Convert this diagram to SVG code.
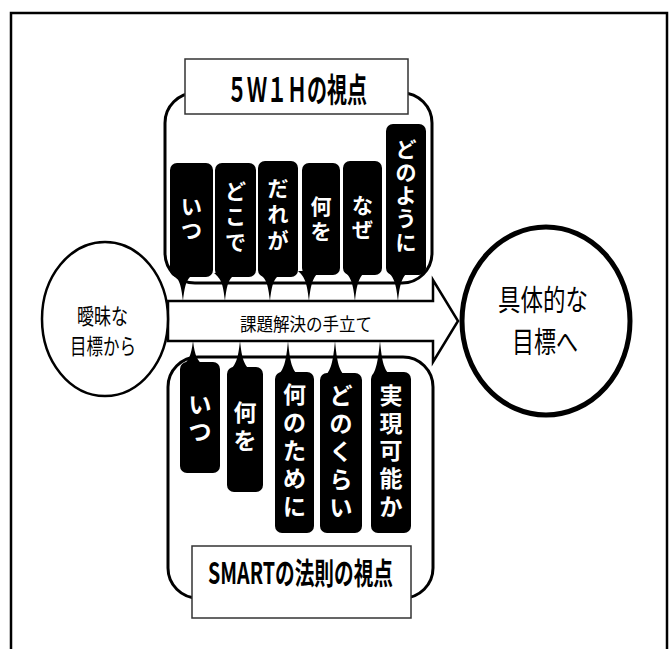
<svg xmlns="http://www.w3.org/2000/svg" width="669" height="649" viewBox="0 0 669 649">
<style>
.frame{fill:none;stroke:#000;stroke-width:2.5}
.cont{fill:#fff;stroke:#000;stroke-width:3}
.title{fill:#fff;stroke:#333;stroke-width:1.5}
.tt{font-family:"Noto Sans CJK JP","Noto Sans",sans-serif;font-weight:bold;fill:#000}
.tag{fill:#000}
.tagt{font-family:"Noto Sans CJK JP","Noto Sans",sans-serif;font-weight:bold;fill:#fff;text-anchor:middle}
.lbl{font-family:"Noto Sans CJK JP","Noto Sans",sans-serif;fill:#000}
.arrow{fill:#fff;stroke:#000;stroke-width:2.5;stroke-linejoin:miter}
</style>
<rect x="0" y="0" width="669" height="649" fill="#fff"/>
<rect class="frame" x="11" y="13" width="656" height="700"/>

<g id="top-group">
  <rect class="cont" x="165" y="93" width="267" height="190" rx="30"/>
  <rect class="title" x="185" y="59" width="223" height="55"/>
  <text class="tt" x="227" y="102" font-size="33" textLength="140" lengthAdjust="spacingAndGlyphs">５Ｗ１Ｈの視点</text>
</g>

<g id="bottom-group">
  <rect class="cont" x="168" y="357" width="265" height="241" rx="30"/>
  <rect class="title" x="192" y="546" width="219" height="72"/>
  <text class="tt" x="208" y="584" font-size="30" textLength="185" lengthAdjust="spacingAndGlyphs">SMARTの法則の視点</text>
</g>

<g id="connectors">
  <path id="main-arrow" class="arrow" d="M168,301 L433,301 L433,280 L458,321 L433,362 L433,341 L168,341 Z"/>
  <text class="lbl" x="240" y="331" font-size="18" textLength="132" lengthAdjust="spacingAndGlyphs">課題解決の手立て</text>
  <g class="tag">
    <path d="M172,273 C179,279 181,283 183,301 C185,283 187,279 194,273 Z"/>
    <path d="M214,273 C221,279 223,283 225,301 C227,283 229,279 236,273 Z"/>
    <path d="M259,273 C266,279 268,283 270,301 C272,283 274,279 281,273 Z"/>
    <path d="M298,271 C305,277 307,283 309,301 C311,283 313,277 320,271 Z"/>
    <path d="M344,271 C351,277 353,283 355,301 C357,283 359,277 366,271 Z"/>
    <path d="M387,271 C394,277 396,283 398,301 C400,283 402,277 409,271 Z"/>
    <path d="M182,366 C189,360 191,356 193,341 C195,356 197,360 204,366 Z"/>
    <path d="M229,371 C236,365 238,359 240,341 C242,359 244,365 251,371 Z"/>
    <path d="M277,376 C284,370 286,362 288,341 C290,362 292,370 299,376 Z"/>
    <path d="M324,377 C331,371 333,362 335,341 C337,362 339,371 346,377 Z"/>
    <path d="M372,376 C376,370 378,362 380,341 C382,362 384,370 391,376 Z"/>
  </g>
</g>

<g id="tag-itsu-1">
  <rect class="tag" x="170" y="163" width="43" height="114" rx="7"/>
  <text class="tagt" font-size="21"><tspan x="191.5" y="214">い</tspan><tspan x="191.5" y="238">つ</tspan></text>
</g>
<g id="tag-dokode">
  <rect class="tag" x="215" y="163" width="41" height="114" rx="7"/>
  <text class="tagt" font-size="21"><tspan x="235.5" y="199">ど</tspan><tspan x="235.5" y="224">こ</tspan><tspan x="235.5" y="250">で</tspan></text>
</g>
<g id="tag-darega">
  <rect class="tag" x="258" y="161" width="40" height="116" rx="7"/>
  <text class="tagt" font-size="21"><tspan x="278" y="196">だ</tspan><tspan x="278" y="222">れ</tspan><tspan x="278" y="248">が</tspan></text>
</g>
<g id="tag-naniwo-1">
  <rect class="tag" x="302" y="163" width="38" height="112" rx="7"/>
  <text class="tagt" font-size="21"><tspan x="321" y="214">何</tspan><tspan x="321" y="239">を</tspan></text>
</g>
<g id="tag-naze">
  <rect class="tag" x="343" y="161" width="39" height="114" rx="7"/>
  <text class="tagt" font-size="21"><tspan x="362.5" y="213">な</tspan><tspan x="362.5" y="237">ぜ</tspan></text>
</g>
<g id="tag-donoyouni">
  <rect class="tag" x="386" y="124" width="40" height="151" rx="7"/>
  <text class="tagt" font-size="21"><tspan x="406" y="157">ど</tspan><tspan x="406" y="180">の</tspan><tspan x="406" y="203">よ</tspan><tspan x="406" y="226">う</tspan><tspan x="406" y="250">に</tspan></text>
</g>

<g id="tag-itsu-2">
  <rect class="tag" x="180" y="362" width="40" height="111" rx="7"/>
  <text class="tagt" font-size="23"><tspan x="200" y="413">い</tspan><tspan x="200" y="440">つ</tspan></text>
</g>
<g id="tag-naniwo-2">
  <rect class="tag" x="227" y="367" width="36" height="125" rx="7"/>
  <text class="tagt" font-size="23"><tspan x="245" y="421">何</tspan><tspan x="245" y="449">を</tspan></text>
</g>
<g id="tag-nanonotameni">
  <rect class="tag" x="275" y="372" width="39" height="161" rx="7"/>
  <text class="tagt" font-size="23"><tspan x="294.5" y="403">何</tspan><tspan x="294.5" y="431">の</tspan><tspan x="294.5" y="459">た</tspan><tspan x="294.5" y="487">め</tspan><tspan x="294.5" y="515">に</tspan></text>
</g>
<g id="tag-donokurai">
  <rect class="tag" x="320" y="373" width="42" height="160" rx="7"/>
  <text class="tagt" font-size="23"><tspan x="341" y="404">ど</tspan><tspan x="341" y="432">の</tspan><tspan x="341" y="460">く</tspan><tspan x="341" y="488">ら</tspan><tspan x="341" y="516">い</tspan></text>
</g>
<g id="tag-jitsugen">
  <rect class="tag" x="371" y="372" width="40" height="161" rx="7"/>
  <text class="tagt" font-size="23"><tspan x="391" y="404">実</tspan><tspan x="391" y="432">現</tspan><tspan x="391" y="459">可</tspan><tspan x="391" y="487">能</tspan><tspan x="391" y="515">か</tspan></text>
</g>

<g id="start">
  <ellipse cx="105" cy="319" rx="63" ry="77" fill="#fff" stroke="#000" stroke-width="2.5"/>
  <text class="lbl" x="77" y="324" font-size="22" textLength="51" lengthAdjust="spacingAndGlyphs">曖昧な</text>
  <text class="lbl" x="70" y="354" font-size="22" textLength="66" lengthAdjust="spacingAndGlyphs">目標から</text>
</g>

<g id="goal">
  <ellipse cx="546" cy="321" rx="84" ry="94" fill="#fff" stroke="#000" stroke-width="5"/>
  <text class="lbl" x="498" y="311" font-size="29" textLength="90" lengthAdjust="spacingAndGlyphs">具体的な</text>
  <text class="lbl" x="512" y="353" font-size="29" textLength="66" lengthAdjust="spacingAndGlyphs">目標へ</text>
</g>
</svg>
